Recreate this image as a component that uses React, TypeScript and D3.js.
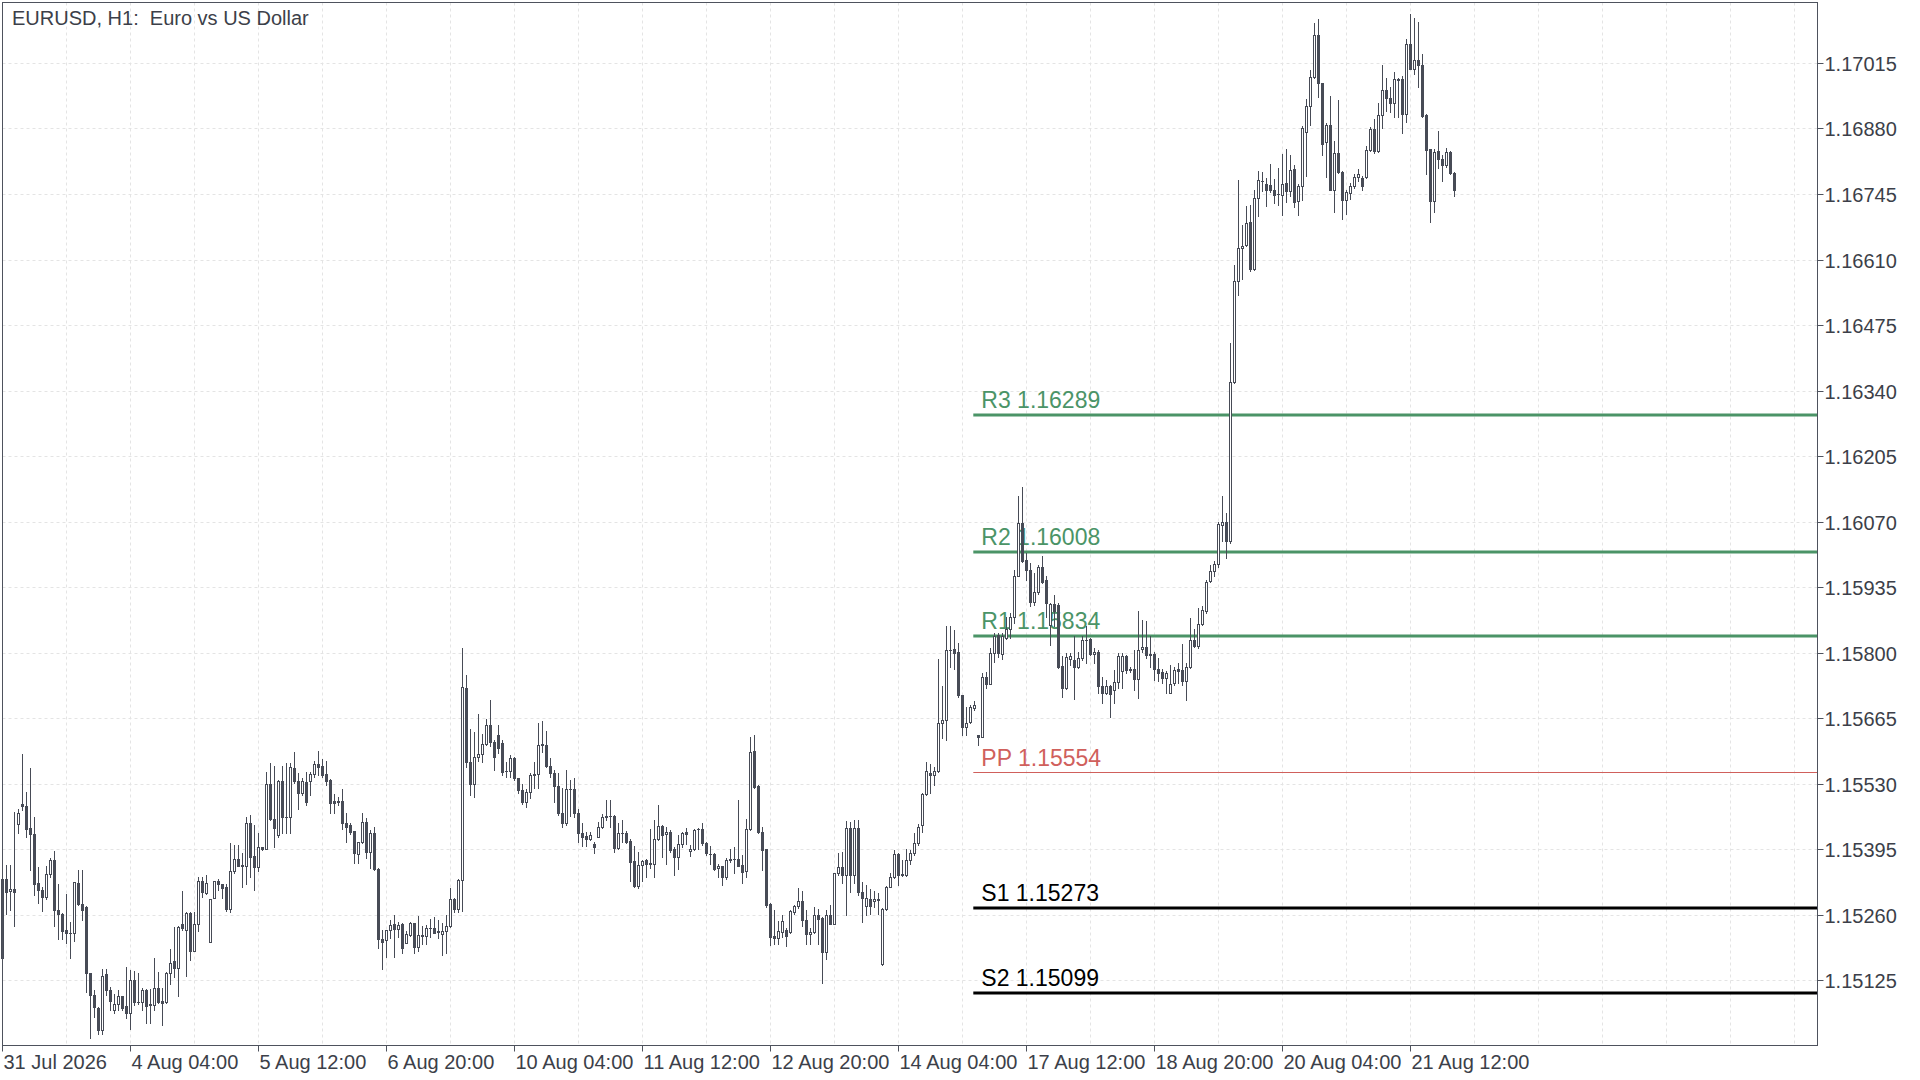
import { useRef, useEffect } from 'react';
import * as d3 from 'd3';

// prices are stored as points above 1.15000 (1 point = 0.00001)
const BASE = 1.15;

const opens: number[] = [
  171, 333, 309, 313, 447, 488, 484, 438, 425, 324,
  311, 297, 343, 372, 269, 262, 228, 221, 221, 324,
  282, 276, 139, 95, 68, 22, 137, 104, 64, 75,
  91, 71, 56, 125, 80, 80, 104, 75, 73, 109,
  82, 80, 139, 165, 149, 240, 229, 264, 185, 240,
  329, 304, 203, 295, 329, 323, 317, 271, 349, 374,
  362, 359, 448, 381, 357, 399, 394, 529, 456, 424,
  535, 460, 460, 562, 536, 510, 533, 536, 550, 570,
  566, 550, 537, 493, 494, 494, 448, 445, 432, 385,
  409, 451, 388, 429, 353, 209, 207, 228, 240, 231,
  240, 202, 218, 242, 192, 216, 216, 233, 233, 225,
  220, 225, 236, 291, 271, 331, 726, 575, 530, 585,
  591, 611, 651, 616, 630, 613, 556, 556, 582, 541,
  517, 491, 513, 548, 549, 611, 609, 567, 552, 525,
  469, 449, 518, 518, 470, 427, 422, 416, 405, 420,
  440, 460, 462, 463, 398, 429, 429, 411, 370, 319,
  361, 372, 365, 365, 415, 442, 425, 430, 395, 379,
  405, 431, 391, 394, 436, 436, 407, 385, 385, 355,
  360, 338, 372, 374, 374, 362, 350, 436, 596, 525,
  431, 394, 281, 216, 211, 224, 228, 224, 266, 277,
  288, 248, 219, 224, 259, 252, 183, 259, 241, 345,
  358, 341, 439, 341, 439, 307, 277, 291, 288, 291,
  158, 272, 317, 338, 384, 343, 341, 372, 387, 408,
  444, 508, 552, 547, 556, 654, 661, 805, 807, 802,
  712, 647, 657, 685, 630, 626, 749, 736, 800, 836,
  797, 830, 848, 874, 958, 1067, 991, 970, 904, 924,
  976, 950, 857, 900, 898, 773, 726, 786, 785, 770,
  788, 826, 828, 797, 802, 731, 716, 731, 723, 740,
  762, 792, 766, 766, 745, 807, 811, 797, 797, 766,
  759, 747, 717, 737, 766, 764, 742, 771, 825, 814,
  859, 885, 948, 967, 982, 1063, 1068, 1029, 1357, 1565,
  1634, 1639, 1687, 1591, 1737, 1771, 1766, 1764, 1754, 1745,
  1743, 1768, 1751, 1797, 1730, 1761, 1872, 1926, 1987, 2072,
  1973, 1852, 1888, 1754, 1830, 1790, 1732, 1747, 1761, 1780,
  1778, 1780, 1835, 1878, 1833, 1907, 1960, 1943, 1933, 1981,
  1981, 1909, 2055, 2003, 2022, 2010, 1907, 1837, 1730, 1833,
  1817, 1804, 1831, 1789,
];

const highs: number[] = [
  338, 362, 362, 472, 477, 591, 513, 561, 460, 357,
  317, 359, 377, 390, 323, 264, 302, 245, 328, 352,
  352, 278, 140, 104, 70, 147, 147, 111, 97, 104,
  92, 151, 146, 144, 139, 109, 106, 106, 170, 142,
  108, 142, 188, 235, 236, 308, 266, 266, 266, 338,
  338, 341, 291, 330, 333, 323, 323, 407, 403, 403,
  386, 460, 465, 445, 429, 400, 553, 572, 566, 537,
  566, 572, 573, 594, 551, 541, 553, 553, 577, 596,
  580, 577, 539, 508, 503, 518, 469, 449, 433, 410,
  469, 458, 434, 440, 355, 228, 229, 249, 259, 245,
  242, 227, 245, 243, 257, 236, 238, 250, 255, 249,
  242, 259, 314, 293, 334, 809, 754, 642, 637, 673,
  632, 662, 702, 620, 651, 620, 575, 589, 585, 542,
  528, 518, 551, 575, 654, 658, 639, 582, 558, 551,
  520, 558, 537, 541, 477, 449, 431, 431, 410, 451,
  467, 497, 497, 465, 449, 455, 433, 415, 401, 389,
  372, 374, 436, 455, 486, 445, 441, 434, 400, 424,
  431, 438, 403, 436, 438, 449, 410, 401, 386, 365,
  360, 376, 394, 400, 496, 383, 456, 625, 630, 527,
  440, 396, 283, 269, 247, 259, 233, 269, 279, 314,
  309, 270, 233, 276, 272, 255, 269, 279, 346, 386,
  389, 453, 451, 455, 455, 327, 320, 312, 309, 305,
  274, 318, 345, 393, 386, 372, 394, 393, 427, 446,
  510, 575, 570, 565, 786, 730, 855, 855, 846, 819,
  712, 688, 692, 701, 630, 757, 760, 809, 841, 840,
  840, 874, 881, 970, 1122, 1142, 1005, 984, 964, 981,
  998, 958, 903, 919, 902, 792, 800, 800, 833, 802,
  833, 854, 830, 809, 806, 750, 744, 733, 764, 799,
  799, 795, 771, 806, 885, 867, 864, 834, 802, 788,
  766, 761, 775, 771, 778, 818, 778, 871, 848, 891,
  895, 950, 981, 988, 1070, 1122, 1087, 1438, 1598, 1773,
  1682, 1721, 1723, 1754, 1792, 1790, 1778, 1806, 1776, 1799,
  1828, 1837, 1826, 1804, 1765, 1885, 1940, 2000, 2098, 2106,
  1974, 1892, 1948, 1854, 1938, 1792, 1754, 1767, 1787, 1797,
  1782, 1844, 1883, 1899, 1932, 2010, 1984, 1966, 1996, 1984,
  1989, 2065, 2115, 2108, 2099, 2033, 1909, 1838, 1838, 1874,
  1826, 1840, 1833, 1790,
];

const lows: number[] = [
  166, 262, 269, 236, 427, 476, 420, 352, 300, 284,
  268, 291, 338, 237, 209, 209, 201, 171, 206, 280,
  249, 101, 5, 49, 14, 14, 94, 63, 58, 63,
  64, 46, 23, 73, 75, 63, 37, 37, 63, 78,
  32, 78, 117, 132, 93, 228, 133, 166, 185, 226,
  297, 302, 203, 293, 311, 295, 268, 266, 346, 359,
  317, 323, 338, 311, 350, 393, 394, 455, 400, 420,
  427, 427, 427, 531, 477, 506, 486, 506, 543, 548,
  544, 527, 469, 470, 486, 436, 410, 426, 366, 366,
  407, 376, 355, 352, 190, 147, 173, 211, 173, 214,
  180, 201, 216, 180, 185, 199, 199, 214, 221, 211,
  176, 181, 235, 266, 266, 268, 565, 506, 502, 577,
  575, 609, 607, 557, 592, 548, 544, 543, 537, 510,
  488, 481, 500, 520, 520, 594, 565, 544, 491, 465,
  440, 445, 462, 460, 410, 401, 401, 414, 386, 419,
  438, 455, 441, 389, 394, 410, 407, 330, 317, 314,
  330, 337, 355, 338, 414, 379, 365, 389, 341, 353,
  400, 405, 381, 393, 396, 403, 383, 365, 352, 337,
  321, 334, 369, 345, 359, 324, 337, 434, 520, 429,
  352, 276, 197, 199, 199, 214, 195, 222, 262, 274,
  236, 200, 200, 222, 200, 119, 169, 240, 240, 341,
  324, 259, 307, 324, 300, 245, 259, 261, 276, 262,
  156, 270, 316, 336, 320, 339, 339, 365, 382, 403,
  430, 506, 510, 527, 554, 623, 620, 771, 767, 709,
  630, 630, 654, 681, 609, 625, 726, 735, 781, 790,
  786, 827, 830, 861, 957, 986, 950, 895, 898, 921,
  943, 874, 816, 854, 768, 709, 725, 775, 704, 768,
  785, 778, 795, 778, 717, 696, 715, 667, 696, 726,
  726, 757, 759, 723, 706, 802, 788, 771, 744, 742,
  737, 717, 717, 733, 737, 733, 702, 768, 812, 809,
  857, 882, 946, 957, 977, 1029, 995, 1026, 1355, 1536,
  1569, 1637, 1586, 1588, 1699, 1751, 1721, 1749, 1727, 1723,
  1701, 1728, 1740, 1718, 1701, 1732, 1782, 1888, 1984, 1945,
  1826, 1780, 1753, 1707, 1789, 1694, 1703, 1735, 1758, 1771,
  1754, 1778, 1833, 1830, 1832, 1881, 1916, 1914, 1904, 1904,
  1870, 1893, 2002, 1993, 1966, 1904, 1787, 1687, 1707, 1799,
  1771, 1801, 1787, 1740,
];

const closes: number[] = [
  333, 307, 313, 307, 470, 484, 436, 425, 322, 311,
  297, 343, 372, 269, 262, 227, 221, 221, 326, 282,
  269, 139, 95, 69, 22, 134, 104, 82, 75, 91,
  68, 56, 125, 80, 80, 104, 72, 73, 108, 80,
  78, 139, 161, 149, 235, 232, 264, 185, 240, 329,
  307, 324, 291, 329, 323, 314, 271, 349, 374, 360,
  359, 448, 379, 357, 399, 394, 529, 456, 438, 535,
  460, 460, 564, 536, 510, 536, 491, 550, 570, 564,
  548, 536, 489, 489, 491, 448, 441, 431, 386, 409,
  451, 388, 429, 353, 209, 204, 228, 238, 231, 238,
  190, 220, 242, 192, 218, 218, 233, 233, 222, 223,
  225, 236, 291, 271, 331, 728, 575, 530, 585, 591,
  611, 651, 616, 584, 603, 554, 556, 582, 541, 517,
  491, 513, 548, 549, 609, 609, 567, 552, 524, 469,
  449, 518, 518, 470, 427, 420, 415, 423, 400, 440,
  460, 462, 463, 398, 429, 429, 410, 369, 319, 361,
  371, 365, 367, 415, 442, 424, 430, 393, 379, 405,
  429, 425, 395, 434, 436, 407, 386, 385, 353, 360,
  338, 372, 374, 374, 360, 348, 436, 594, 522, 431,
  393, 280, 214, 211, 226, 247, 215, 267, 277, 288,
  248, 219, 224, 259, 250, 183, 259, 241, 345, 358,
  341, 439, 341, 439, 307, 293, 293, 277, 291, 290,
  272, 317, 338, 384, 341, 341, 372, 387, 408, 441,
  508, 556, 547, 556, 654, 661, 805, 805, 800, 712,
  647, 654, 687, 692, 626, 749, 736, 800, 834, 800,
  834, 848, 874, 958, 1067, 988, 970, 904, 924, 976,
  946, 902, 900, 885, 771, 726, 790, 792, 771, 788,
  826, 826, 797, 802, 731, 716, 730, 715, 740, 792,
  793, 764, 764, 745, 806, 811, 795, 795, 766, 757,
  747, 757, 735, 764, 761, 742, 771, 825, 814, 859,
  887, 946, 967, 982, 1065, 1068, 1029, 1357, 1565, 1634,
  1637, 1685, 1591, 1737, 1773, 1771, 1754, 1753, 1743, 1745,
  1766, 1751, 1794, 1728, 1761, 1881, 1926, 1987, 2072, 1973,
  1848, 1888, 1754, 1830, 1790, 1732, 1749, 1762, 1780, 1787,
  1761, 1835, 1878, 1833, 1907, 1960, 1943, 1933, 1981, 1980,
  1909, 2055, 2003, 2022, 2010, 1905, 1835, 1730, 1831, 1817,
  1804, 1831, 1789, 1753,
];

// x axis: one label every 32 hourly bars
const xTickLabels: string[] = [
  '31 Jul 2026', '4 Aug 04:00', '5 Aug 12:00', '6 Aug 20:00', '10 Aug 04:00', '11 Aug 12:00',
  '12 Aug 20:00', '14 Aug 04:00', '17 Aug 12:00', '18 Aug 20:00', '20 Aug 04:00', '21 Aug 12:00',
];
const yTickLabels: string[] = [
  '1.15125', '1.15260', '1.15395', '1.15530', '1.15665', '1.15800', '1.15935', '1.16070',
  '1.16205', '1.16340', '1.16475', '1.16610', '1.16745', '1.16880', '1.17015',
];

const pivotNames: string[] = ['R3', 'R2', 'R1', 'PP', 'S1', 'S2'];
const pivotValues: number[] = [1.16289, 1.16008, 1.15834, 1.15554, 1.15273, 1.15099];
const pivotStartBar = 242.7;

export default function App() {
  const chartRef = useRef<SVGSVGElement | null>(null);

  useEffect(() => {
    if (!chartRef.current) return;

    const width = 1920;
    const height = 1080;
    const left = 2.5, right = 1817.5, top = 2.5, bottom = 1045.5;
    const font = "'Liberation Sans', Arial, sans-serif";
    const ink = '#474b56';
    const textColor = '#3c3f49';

    const svg = d3.select(chartRef.current)
      .attr('width', width)
      .attr('height', height);
    svg.selectAll('*').remove();

    const x = d3.scaleLinear().domain([0, 1]).range([2.5, 6.5]);
    const y = d3.scaleLinear().domain([1.15125, 1.17015]).range([980, 63]);
    const crisp = (v: number) => Math.round(v) + 0.5;

    svg.append('rect').attr('width', width).attr('height', height).attr('fill', '#ffffff');

    // dashed grid
    const grid = svg.append('g')
      .attr('stroke', '#e4e4e4')
      .attr('stroke-width', 1)
      .attr('stroke-dasharray', '3,3');
    grid.selectAll('line.h')
      .data(yTickLabels)
      .enter()
      .append('line')
      .attr('x1', left)
      .attr('x2', right)
      .attr('y1', (d) => crisp(y(+d)))
      .attr('y2', (d) => crisp(y(+d)));
    grid.selectAll('line.v')
      .data(d3.range(16, 460, 16).filter((i) => x(i) < right))
      .enter()
      .append('line')
      .attr('x1', (i) => x(i))
      .attr('x2', (i) => x(i))
      .attr('y1', top)
      .attr('y2', bottom);

    // pivot levels
    const pivotStyle = (name: string) => {
      if (name === 'PP') return { color: '#d0605c', width: 1, text: '#d0605c' };
      if (name.startsWith('R')) return { color: '#4b9467', width: 3, text: '#4b9467' };
      return { color: '#000000', width: 3, text: '#000000' };
    };
    const pivots = svg.append('g');
    pivotNames.forEach((name, k) => {
      const st = pivotStyle(name);
      const py = st.width === 1 ? crisp(y(pivotValues[k])) : Math.round(y(pivotValues[k]));
      pivots.append('line')
        .attr('x1', x(pivotStartBar))
        .attr('x2', right)
        .attr('y1', py)
        .attr('y2', py)
        .attr('stroke', st.color)
        .attr('stroke-width', st.width);
      pivots.append('text')
        .attr('x', x(pivotStartBar) + 8)
        .attr('y', py - 7)
        .attr('font-family', font)
        .attr('font-size', '23px')
        .attr('fill', st.text)
        .text(`${name} ${pivotValues[k].toFixed(5)}`);
    });

    // candles
    const candles = opens.map((o, i) => ({
      i,
      o: BASE + o / 1e5,
      h: BASE + highs[i] / 1e5,
      l: BASE + lows[i] / 1e5,
      c: BASE + closes[i] / 1e5,
    }));
    const cg = svg.append('g');
    candles.forEach((d) => {
      const cx = x(d.i);
      const hi = Math.max(d.h, d.o, d.c);
      const lo = Math.min(d.l, d.o, d.c);
      cg.append('line')
        .attr('x1', cx).attr('x2', cx)
        .attr('y1', Math.round(y(hi)))
        .attr('y2', Math.round(y(lo)) + 1)
        .attr('stroke', ink)
        .attr('stroke-width', 1);
      const yTop = Math.round(y(Math.max(d.o, d.c)));
      const yBot = Math.round(y(Math.min(d.o, d.c)));
      if (yBot - yTop < 1) {
        cg.append('line')
          .attr('x1', cx - 1.5).attr('x2', cx + 1.5)
          .attr('y1', yTop + 0.5).attr('y2', yTop + 0.5)
          .attr('stroke', ink)
          .attr('stroke-width', 1);
      } else {
        cg.append('rect')
          .attr('x', cx - 1)
          .attr('y', yTop + 0.5)
          .attr('width', 2)
          .attr('height', yBot - yTop)
          .attr('fill', d.c >= d.o ? '#ffffff' : ink)
          .attr('stroke', ink)
          .attr('stroke-width', 1);
      }
    });

    // frame
    svg.append('rect')
      .attr('x', left).attr('y', top)
      .attr('width', right - left).attr('height', bottom - top)
      .attr('fill', 'none')
      .attr('stroke', '#4e525d')
      .attr('stroke-width', 1);

    // price axis
    const ya = svg.append('g');
    yTickLabels.forEach((t) => {
      const ty = crisp(y(+t));
      ya.append('line')
        .attr('x1', right).attr('x2', right + 6)
        .attr('y1', ty).attr('y2', ty)
        .attr('stroke', '#4e525d');
      ya.append('text')
        .attr('x', right + 7)
        .attr('y', ty + 7)
        .attr('font-family', font)
        .attr('font-size', '20px')
        .attr('fill', textColor)
        .text(t);
    });

    // time axis
    const xa = svg.append('g');
    xTickLabels.forEach((t, k) => {
      const tx = x(k * 32);
      xa.append('line')
        .attr('x1', tx).attr('x2', tx)
        .attr('y1', bottom).attr('y2', bottom + 6)
        .attr('stroke', '#4e525d');
      xa.append('text')
        .attr('x', tx + 1)
        .attr('y', 1069)
        .attr('font-family', font)
        .attr('font-size', '20px')
        .attr('fill', textColor)
        .text(t);
    });

    // title
    svg.append('text')
      .attr('x', 12)
      .attr('y', 25)
      .attr('font-family', font)
      .attr('font-size', '20px')
      .attr('fill', textColor)
      .attr('xml:space', 'preserve')
      .style('white-space', 'pre')
      .text('EURUSD, H1:  Euro vs US Dollar');
  }, []);

  return (
    <div style={{ position: 'fixed', left: 0, top: 0 }}>
      <svg ref={chartRef} style={{ display: 'block' }}></svg>
    </div>
  );
}
